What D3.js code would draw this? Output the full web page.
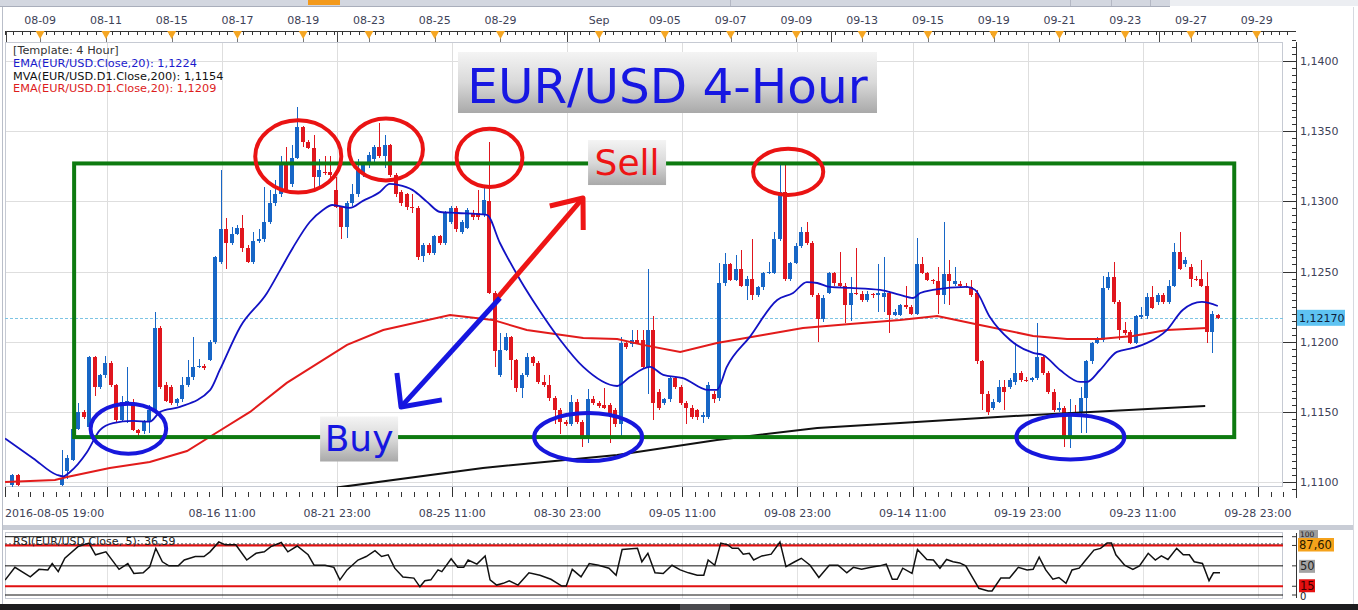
<!DOCTYPE html>
<html><head><meta charset="utf-8">
<script src="https://cdn.jsdelivr.net/npm/d3@7"></script>
<style>body{margin:0;background:#fff;overflow:hidden}svg{display:block}text{font-family:"DejaVu Sans",sans-serif}</style>
</head><body><svg id="c" width="1358" height="610"></svg>
<script>
// ---------------- DATA ----------------
const barIndex = [0, 1, ...d3.range(9, 221)];
const opens = [1.1098,1.1105,
1.1098,1.1108,1.1116,1.1138,1.1150,1.1139,1.1189,1.1168,1.1176,1.1185,1.1169,
1.1144,1.1155,1.1157,1.1137,1.1136,1.1143,1.1151,1.1210,1.1169,1.1168,
1.1156,1.1159,1.1169,1.1175,1.1182,1.1183,1.1187,1.1200,1.1257,1.1280,
1.1270,1.1277,1.1281,1.1267,1.1257,1.1272,1.1273,1.1285,1.1299,1.1305,
1.1326,1.1312,1.1331,1.1353,1.1342,1.1338,1.1317,1.1321,1.1321,1.1308,
1.1296,1.1282,1.1299,1.1305,1.1320,1.1326,1.1330,1.1339,1.1332,1.1340,
1.1319,1.1307,1.1305,1.1296,1.1295,1.1261,1.1269,1.1263,1.1275,1.1270,
1.1285,1.1295,1.1278,1.1281,1.1292,1.1292,1.1290,1.1300,1.1235,1.1176,
1.1194,1.1203,1.1187,1.1167,1.1176,1.1189,1.1185,1.1171,1.1169,1.1160,
1.1151,1.1143,1.1141,1.1157,1.1143,1.1131,1.1159,1.1156,1.1155,1.1155,
1.1151,1.1141,1.1199,1.1198,1.1201,1.1201,1.1182,1.1208,1.1164,1.1156,
1.1159,1.1174,1.1168,1.1156,1.1153,1.1151,1.1146,1.1146,1.1163,1.1160,
1.1242,1.1255,1.1244,1.1252,1.1240,1.1245,1.1233,1.1239,1.1249,1.1249,
1.1273,1.1307,1.1245,1.1256,1.1268,1.1278,1.1270,1.1233,1.1216,1.1235,
1.1249,1.1242,1.1240,1.1226,1.1235,1.1234,1.1230,1.1234,1.1233,1.1232,
1.1235,1.1219,1.1219,1.1226,1.1225,1.1220,1.1255,1.1249,1.1244,1.1243,
1.1233,1.1248,1.1241,1.1241,1.1240,1.1239,1.1235,1.1186,1.1163,1.1153,
1.1157,1.1168,1.1168,1.1171,1.1178,1.1173,1.1173,1.1174,1.1189,1.1178,
1.1164,1.1151,1.1153,1.1131,1.1150,1.1150,1.1160,1.1186,1.1199,1.1201,
1.1238,1.1246,1.1228,1.1208,1.1207,1.1199,1.1218,1.1218,1.1232,1.1228,
1.1233,1.1228,1.1240,1.1264,1.1255,1.1253,1.1245,1.1245,1.1240,1.1207,1.1219];
const highs = [1.1106,1.1106,
1.1123,1.1119,1.1139,1.1156,1.1151,1.1190,1.1190,1.1177,1.1190,1.1186,1.1170,
1.1161,1.1182,1.1159,1.1138,1.1144,1.1155,1.1221,1.1211,1.1171,1.1169,
1.1160,1.1175,1.1187,1.1203,1.1188,1.1184,1.1201,1.1261,1.1322,1.1288,
1.1282,1.1283,1.1290,1.1269,1.1278,1.1280,1.1310,1.1308,1.1315,1.1332,
1.1339,1.1340,1.1367,1.1354,1.1344,1.1347,1.1330,1.1332,1.1332,1.1317,
1.1297,1.1300,1.1312,1.1330,1.1327,1.1335,1.1340,1.1356,1.1347,1.1341,
1.1320,1.1308,1.1306,1.1305,1.1297,1.1270,1.1270,1.1276,1.1276,1.1293,
1.1297,1.1297,1.1287,1.1295,1.1294,1.1308,1.1310,1.1342,1.1236,1.1206,
1.1206,1.1204,1.1188,1.1178,1.1192,1.1190,1.1186,1.1176,1.1176,1.1161,
1.1153,1.1144,1.1162,1.1159,1.1144,1.1166,1.1161,1.1158,1.1167,1.1156,
1.1153,1.1203,1.1200,1.1208,1.1208,1.1208,1.1252,1.1218,1.1166,1.1160,
1.1175,1.1175,1.1169,1.1158,1.1155,1.1152,1.1150,1.1171,1.1165,1.1256,
1.1263,1.1256,1.1262,1.1265,1.1247,1.1273,1.1240,1.1250,1.1257,1.1278,
1.1326,1.1326,1.1257,1.1270,1.1282,1.1285,1.1272,1.1235,1.1233,1.1250,
1.1250,1.1264,1.1242,1.1246,1.1267,1.1236,1.1236,1.1235,1.1255,1.1260,
1.1236,1.1223,1.1227,1.1240,1.1226,1.1274,1.1260,1.1250,1.1245,1.1253,
1.1285,1.1258,1.1253,1.1243,1.1242,1.1244,1.1237,1.1187,1.1165,1.1159,
1.1173,1.1173,1.1174,1.1199,1.1179,1.1175,1.1175,1.1213,1.1190,1.1179,
1.1166,1.1157,1.1154,1.1159,1.1155,1.1168,1.1187,1.1200,1.1203,1.1247,
1.1250,1.1257,1.1230,1.1214,1.1208,1.1219,1.1225,1.1235,1.1240,1.1235,
1.1235,1.1244,1.1270,1.1278,1.1260,1.1255,1.1247,1.1258,1.1250,1.1222,1.1220];
const lows = [1.1096,1.1097,
1.1097,1.1102,1.1115,1.1137,1.1145,1.1138,1.1161,1.1166,1.1174,1.1168,1.1142,
1.1143,1.1142,1.1136,1.1133,1.1134,1.1135,1.1150,1.1166,1.1157,1.1155,
1.1154,1.1157,1.1168,1.1173,1.1181,1.1180,1.1186,1.1198,1.1255,1.1252,
1.1269,1.1276,1.1264,1.1256,1.1255,1.1270,1.1271,1.1284,1.1297,1.1303,
1.1307,1.1310,1.1330,1.1339,1.1337,1.1308,1.1310,1.1319,1.1314,1.1295,
1.1273,1.1274,1.1297,1.1303,1.1317,1.1324,1.1328,1.1331,1.1324,1.1317,
1.1303,1.1297,1.1294,1.1292,1.1258,1.1257,1.1262,1.1262,1.1269,1.1269,
1.1284,1.1278,1.1277,1.1280,1.1287,1.1287,1.1289,1.1234,1.1182,1.1175,
1.1193,1.1173,1.1164,1.1160,1.1175,1.1183,1.1170,1.1168,1.1158,1.1141,
1.1134,1.1140,1.1140,1.1141,1.1125,1.1128,1.1155,1.1153,1.1152,1.1128,
1.1139,1.1132,1.1195,1.1196,1.1198,1.1181,1.1163,1.1144,1.1151,1.1155,
1.1157,1.1166,1.1155,1.1141,1.1145,1.1144,1.1142,1.1145,1.1156,1.1158,
1.1240,1.1243,1.1243,1.1239,1.1230,1.1230,1.1232,1.1237,1.1248,1.1248,
1.1272,1.1243,1.1243,1.1255,1.1267,1.1269,1.1232,1.1200,1.1214,1.1234,
1.1240,1.1239,1.1213,1.1215,1.1233,1.1228,1.1228,1.1231,1.1221,1.1221,
1.1206,1.1218,1.1218,1.1223,1.1219,1.1219,1.1248,1.1243,1.1241,1.1220,
1.1227,1.1226,1.1240,1.1238,1.1238,1.1232,1.1184,1.1151,1.1148,1.1151,
1.1156,1.1151,1.1166,1.1169,1.1171,1.1171,1.1171,1.1173,1.1176,1.1163,
1.1150,1.1150,1.1125,1.1124,1.1148,1.1135,1.1135,1.1184,1.1198,1.1200,
1.1237,1.1227,1.1201,1.1205,1.1198,1.1198,1.1216,1.1216,1.1223,1.1226,
1.1227,1.1227,1.1239,1.1251,1.1253,1.1239,1.1243,1.1239,1.1199,1.1192,1.1216];
const closes = [1.1105,1.1098,
1.1103,1.1117,1.1138,1.1150,1.1146,1.1189,1.1168,1.1176,1.1185,1.1169,1.1144,
1.1157,1.1158,1.1137,1.1135,1.1143,1.1151,1.1210,1.1168,1.1158,1.1156,
1.1159,1.1169,1.1175,1.1182,1.1183,1.1181,1.1200,1.1260,1.1280,1.1270,
1.1277,1.1281,1.1267,1.1257,1.1272,1.1273,1.1285,1.1299,1.1305,1.1326,
1.1308,1.1331,1.1353,1.1342,1.1338,1.1317,1.1322,1.1320,1.1319,1.1296,
1.1282,1.1299,1.1305,1.1322,1.1326,1.1333,1.1339,1.1332,1.1340,1.1319,
1.1305,1.1299,1.1296,1.1295,1.1260,1.1269,1.1263,1.1275,1.1270,1.1292,
1.1295,1.1280,1.1285,1.1294,1.1289,1.1289,1.1301,1.1235,1.1193,1.1194,
1.1203,1.1187,1.1167,1.1176,1.1189,1.1185,1.1171,1.1169,1.1160,1.1151,
1.1143,1.1141,1.1157,1.1143,1.1132,1.1159,1.1156,1.1154,1.1153,1.1148,
1.1141,1.1199,1.1196,1.1201,1.1199,1.1182,1.1208,1.1156,1.1153,1.1159,
1.1174,1.1168,1.1156,1.1153,1.1146,1.1146,1.1148,1.1169,1.1159,1.1242,
1.1255,1.1244,1.1252,1.1240,1.1245,1.1233,1.1239,1.1249,1.1250,1.1273,
1.1307,1.1245,1.1256,1.1268,1.1278,1.1270,1.1233,1.1216,1.1231,1.1249,
1.1242,1.1240,1.1226,1.1235,1.1234,1.1230,1.1234,1.1233,1.1235,1.1235,
1.1219,1.1221,1.1226,1.1225,1.1220,1.1255,1.1249,1.1244,1.1243,1.1233,
1.1248,1.1243,1.1243,1.1240,1.1239,1.1233,1.1186,1.1163,1.1150,1.1157,
1.1168,1.1164,1.1173,1.1178,1.1173,1.1172,1.1174,1.1189,1.1178,1.1164,
1.1151,1.1153,1.1131,1.1150,1.1149,1.1160,1.1186,1.1199,1.1201,1.1238,
1.1246,1.1228,1.1208,1.1206,1.1199,1.1218,1.1219,1.1232,1.1224,1.1233,
1.1228,1.1240,1.1264,1.1252,1.1258,1.1245,1.1244,1.1240,1.1207,1.1220,1.1217];

// EMA(Close,20) on 4H
const emaIdx = [-1.5,3.6,8.0,9.1,10.3,13.4,15.8,18.2,21.8,24.9,26.8,30.4,35.9,37.7,41.4,46.3,48.7,51.0,54.1,56.5,
58.2,61.4,63.8,66.9,68.7,70.2,72.9,75.5,77.9,81.0,86.4,88.8,92.5,95.6,99.8,104.0,110.2,112.5,116.2,118.6,
122.2,126.8,128.4,130.2,134.4,139.4,142.3,144.8,146.7,149.0,152.7,158.2,161.8,164.2,165.5,167.8,174.0,175.5,178.2,181.9,
186.1,187.9,191.0,194.7,195.9,198.3,201.4,204.3,206.9,210.5,213.4,216.9,219.8];
const emaVal = [1.1131,1.1117,1.1105,1.1104,1.1107,1.1121,1.1137,1.1142,1.11435,1.1143,1.1150,1.11535,1.11655,1.1180,1.12105,1.12347,1.1251,1.12668,1.12853,1.12939,
1.12974,1.12953,1.13003,1.13067,1.13124,1.13117,1.1308,1.12996,1.12924,1.12917,1.12903,1.12703,1.1244,1.12247,1.12012,1.1182,1.11684,1.11748,1.1182,1.11763,
1.11741,1.11656,1.11656,1.1182,1.12034,1.12297,1.12347,1.12425,1.12418,1.1239,1.12383,1.12369,1.12333,1.12311,1.12347,1.12369,1.1239,1.12369,1.12176,1.12012,
1.1192,1.11905,1.11798,1.11713,1.11713,1.11798,1.11927,1.11955,1.11991,1.12083,1.12226,1.12283,1.12254];
// EMA(D1.Close,20)
const d1Idx = [-1.5,7.6,9.8,17.6,24.9,31.7,36.4,43.2,49.9,60.9,67.5,79.7,87.5,93.7,104.0,110.2,114.9,121.7,128.4,136.8,144.1,152.7,161.8,168.6,176.4,186.1,192.3,198.3,204.3,210.5,217.8];
const d1Val = [1.1100,1.11015,1.11036,1.1110,1.11143,1.11221,1.11335,1.11499,1.11706,1.11977,1.12083,1.1219,1.12155,1.12083,1.12026,1.12019,1.11977,1.11927,1.11991,1.12048,1.12098,1.12126,1.12155,1.12183,1.12119,1.12041,1.12019,1.12019,1.12041,1.12083,1.12098];
// MVA(D1.Close,200)
const mvaIdx = [59.0,85.7,110.2,128.4,146.7,161.8,186.1,217.5];
const mvaVal = [1.1096,1.1110,1.11193,1.1130,1.11385,1.11421,1.11478,1.11542];
// RSI(Close,5)
const rsiIdx = [-1.5,0.3,3.1,4.7,6.3,7.1,8.2,9.4,11.8,13.8, 15.0,16.9,19.3,20.9,22.0,23.7,24.9,26.0,27.2,28.4,
30.1,31.2,33.2,34.8,35.9,37.5,38.7,40.6,42.6,44.3, 45.8,47.0,48.9,50.1,51.8,53.8,54.9,56.9,58.5,59.6,
60.9,62.9,64.4,66.0,67.2,68.4,69.6,71.1,73.1,74.2, 75.1,76.2,77.5,78.2,79.9,81.1,82.2,83.0,84.6,86.1,
87.0,88.2,89.4,90.5,92.1,94.1,96.1,98.1,100.1,100.9, 102.0,103.6,105.1,106.8,108.7,110.0,111.1,113.9,114.7,115.8,
117.1,118.6,120.2,121.7,123.2,124.8,126.0,126.8,128.0,129.1, 130.4,131.2,132.3,133.2,134.3,135.1,136.6,138.3,139.9,141.0,
142.6,143.8,145.4,147.0,148.9,150.5,152.1,153.3,154.8,156.5, 158.1,159.3,160.4,161.3,162.3,164.0,165.0,166.7,167.9,169.1,
170.3,171.5,172.7,173.8,176.2,177.9,178.6,180.2,181.8,183.4, 185.0,186.1,187.2,188.4,189.7,190.8,192.1,193.2,194.5,195.7,
197.2,198.4,199.6,200.4,201.2,202.8,204.3,205.5,207.1,208.4, 209.5,210.7,212.3,213.5,214.6,215.5,217.0,218.2,219.0,220.2];
const rsiVal = [25.7,47.5,31,44,43,54,40,63,83,89, 69,74,44,54,37,38,48.5,80,57,50,
50,60,66,66,74,91,86,86,60,71.5, 74,83,90,74,84,69,51,51,47.5,26,
43,60,66,76,66,69,46,31,29,14, 24.5,26,43,40,62,47.5,47.5,60,53,67,
26,17,20,24.5,17,38,34,27,15.4,15.4, 44,31,54,51,46,34,78,80,57,71.5,
38,37,51,43,38,34,34,60,51,89, 86,80,80,70,71.5,60,67,70,91,48.5,
57,63,51,30,51,51,38,47.5,44,47.5, 50,53,27,27,46,37,78,61,60,46,
61,57,55,50,11.5,7,7,29,29,47.5, 43,44,65,43,27,30,20,43,46,60,
77,80,89,89,69,51,44,50,71.5,60, 67,61,80,69,69,57,54,24.5,38,38];
const rsiLevels = [100, 85, 50, 15, 0];
const rsiMax = 87.60, rsiLast = "36,59";

// axis ticks / labels
const priceTicks = [1.1100,1.1150,1.1200,1.1250,1.1300,1.1350,1.1400];
const lastPrice = 1.1217;
const topLabels = ["08-09","08-11","08-15","08-17","08-19","08-23","08-25","08-29","Sep","09-05","09-07","09-09","09-13","09-15","09-19","09-21","09-23","09-27","09-29"];
const topLabelIdx = [4.9,16.9,28.9,40.9,52.9,64.9,76.9,88.9,106.9,118.9,130.9,142.9,154.9,166.9,178.9,190.9,202.9,214.9,226.9];
const topMarkIdx = [-1.3,59.1,101.1,149.2,209.1];
const bottomLabels = ["2016-08-05 19:00","08-16 11:00","08-21 23:00","08-25 11:00","08-30 23:00","09-05 11:00","09-08 23:00","09-14 11:00","09-19 23:00","09-23 11:00","09-28 23:00"];
const bottomLabelIdx = [-1.5,38.1,59.1,80.1,101.1,122.1,143.1,164.1,185.1,206.1,227.1];
const bottomMajorIdx = [17.1,38.1,59.1,80.1,101.1,122.1,143.1,164.1,185.1,206.1,227.1];

// annotations (data space)
const rangeBox = [11.1, 222.8, 1.1132, 1.1327];
const sellCircles = [[52.0,1.1332,7.85,0.00257],[68.0,1.1337,6.75,0.00221],[86.9,1.1331,6.0,0.00207],[141.4,1.1321,6.4,0.00164]];
const buyCircles = [[21.0,1.1138,6.9,0.00178],[104.9,1.1132,9.85,0.00171],[192.9,1.1132,9.85,0.0016]];
const sellArrow = [[88.3,1.12311],[103.96,1.13024]];
const sellHead = [[97.9,1.12967],[103.96,1.13024],[104.0,1.12796]];
const buyArrow = [[88.8,1.12311],[70.75,1.11535]];
const buyHead = [[70.0,1.11777],[70.75,1.11535],[78.2,1.11585]];
const sellLabel = [112.0,1.1328], buyLabel = [63.1,1.1131];
const legendLines = [["[Template: 4 Hour]","#333"],["EMA(EUR/USD.Close,20): 1,1224","#1a1acc"],["MVA(EUR/USD.D1.Close,200): 1,1154","#111"],["EMA(EUR/USD.D1.Close,20): 1,1209","#dd1c1c"]];

// ---------------- DRAW ----------------
const BLUE="#1766c6", RED="#e0161e", AX="#3d4257";
const svg = d3.select("#c");
const x = d3.scaleLinear().domain([0,220]).range([13.3,1218.9]);
const y = d3.scaleLinear().domain([1.11,1.14]).range([482,61]);
const yR = d3.scaleLinear().domain([0,100]).range([595,536.7]);
const fmt = v => d3.format(".4f")(v).replace(".",",");
const px = v => Math.round(x(v))+.5;

const defs = svg.append("defs");
const gr = defs.append("linearGradient").attr("id","boxg").attr("x1",0).attr("y1",0).attr("x2",0).attr("y2",1);
gr.append("stop").attr("offset","0%").attr("stop-color","#f4f4f4");
gr.append("stop").attr("offset","50%").attr("stop-color","#d9d9d9");
gr.append("stop").attr("offset","100%").attr("stop-color","#a9a9a9");
defs.append("clipPath").attr("id","cm").append("rect").attr("x",5).attr("y",42).attr("width",1278).attr("height",445);
defs.append("clipPath").attr("id","cr").append("rect").attr("x",5).attr("y",533).attr("width",1278).attr("height",65);

svg.append("rect").attr("width",1358).attr("height",610).attr("fill","#fff");
// toolbar strip
svg.append("rect").attr("x",0).attr("y",0).attr("width",1170).attr("height",6).attr("fill","#d3d7e0");
svg.append("rect").attr("x",1170).attr("y",0).attr("width",188).attr("height",6).attr("fill","#eceef2");
svg.append("line").attr("x1",0).attr("x2",1170).attr("y1",6.5).attr("y2",6.5).attr("stroke","#a9aebb");
svg.append("rect").attr("x",308).attr("y",0).attr("width",32).attr("height",5).attr("fill","#f39a1c");
[730,1070,1111,1150].forEach(v=>svg.append("line").attr("x1",v+.5).attr("x2",v+.5).attr("y1",0).attr("y2",6).attr("stroke","#b4b8c4"));
svg.append("line").attr("x1",2.5).attr("x2",2.5).attr("y1",7).attr("y2",604).attr("stroke","#b9bec9");
svg.append("line").attr("x1",1353.5).attr("x2",1353.5).attr("y1",7).attr("y2",604).attr("stroke","#d6d9e0");

// top ruler
const topAxis = svg.append("g");
topAxis.append("line").attr("x1",5).attr("x2",1296).attr("y1",31.5).attr("y2",31.5).attr("stroke","#333");
topAxis.selectAll("line.m").data(d3.range(-1.5,234,1.5)).join("line").attr("class","m")
  .attr("x1",px).attr("x2",px).attr("y1",31).attr("y2",35).attr("stroke","#333");
topAxis.selectAll("line.mk").data(topMarkIdx).join("line").attr("class","mk")
  .attr("x1",px).attr("x2",px).attr("y1",31).attr("y2",42).attr("stroke","#444");
topAxis.selectAll("line.dl").data(topLabelIdx).join("line").attr("class","dl")
  .attr("x1",px).attr("x2",px).attr("y1",31).attr("y2",42).attr("stroke","#777");
topAxis.selectAll("path.tri").data(topLabelIdx).join("path").attr("class","tri")
  .attr("d",d=>{const c=x(d);return `M${c-4.5},31L${c+4.5},31L${c},39Z`;}).attr("fill","#f5a623");
topAxis.selectAll("text").data(topLabels).join("text").attr("x",(d,k)=>x(topLabelIdx[k])).attr("y",24)
  .attr("text-anchor","middle").attr("font-size",11).attr("fill",AX).text(d=>d);

// main plot frame + grid
const main = svg.append("g");
main.append("rect").attr("x",5.5).attr("y",42.5).attr("width",1277).attr("height",444).attr("fill","#fff").attr("stroke","#c6cad3");
main.selectAll("line.hg").data(priceTicks).join("line").attr("class","hg")
  .attr("x1",6).attr("x2",1282).attr("y1",d=>Math.round(y(d))+.5).attr("y2",d=>Math.round(y(d))+.5).attr("stroke","#dedede");
main.selectAll("line.vg").data(bottomMajorIdx).join("line").attr("class","vg")
  .attr("x1",px).attr("x2",px).attr("y1",43).attr("y2",486).attr("stroke","#dedede");

const pl = main.append("g").attr("clip-path","url(#cm)");
pl.append("line").attr("x1",5).attr("x2",1283).attr("y1",Math.round(y(lastPrice))+.5).attr("y2",Math.round(y(lastPrice))+.5)
  .attr("stroke","#7cc4e4").attr("stroke-dasharray","3,2");

// candles
const candles = barIndex.map((b,k)=>({b,o:opens[k],h:highs[k],l:lows[k],c:closes[k]}));
const cg = pl.append("g").attr("shape-rendering","crispEdges");
cg.selectAll("rect.w").data(candles).join("rect").attr("class","w")
  .attr("x",d=>Math.round(x(d.b))-1).attr("width",1)
  .attr("y",d=>y(d.h)).attr("height",d=>Math.max(1,y(d.l)-y(d.h)))
  .attr("fill",d=>d.c>=d.o?BLUE:RED);
cg.selectAll("rect.b").data(candles).join("rect").attr("class","b")
  .attr("x",d=>Math.round(x(d.b))-3).attr("width",4)
  .attr("y",d=>y(Math.max(d.o,d.c))).attr("height",d=>Math.max(1.5,Math.abs(y(d.o)-y(d.c))))
  .attr("fill",d=>d.c>=d.o?BLUE:RED);

// indicator lines
const zip=(a,b)=>a.map((v,k)=>[v,b[k]]);
const lin = d3.line().x(d=>x(d[0])).y(d=>y(d[1]));
pl.append("path").datum(zip(mvaIdx,mvaVal)).attr("d",lin).attr("fill","none").attr("stroke","#111").attr("stroke-width",2);
pl.append("path").datum(zip(d1Idx,d1Val)).attr("d",lin).attr("fill","none").attr("stroke","#e21b1b").attr("stroke-width",2);
pl.append("path").datum(zip(emaIdx,emaVal)).attr("d",d3.line().x(d=>x(d[0])).y(d=>y(d[1])).curve(d3.curveMonotoneX))
  .attr("fill","none").attr("stroke","#1212c4").attr("stroke-width",1.8);

// annotations
const an = pl.append("g");
an.append("rect").attr("x",x(rangeBox[0])).attr("width",x(rangeBox[1])-x(rangeBox[0]))
  .attr("y",y(rangeBox[3])).attr("height",y(rangeBox[2])-y(rangeBox[3]))
  .attr("fill","none").attr("stroke","#0d7a10").attr("stroke-width",4);
const ell = (arr,col)=>an.selectAll(null).data(arr).join("ellipse")
  .attr("cx",d=>x(d[0])).attr("cy",d=>y(d[1])).attr("rx",d=>x(d[0]+d[2])-x(d[0])).attr("ry",d=>y(d[1]-d[3])-y(d[1]))
  .attr("fill","none").attr("stroke",col).attr("stroke-width",4);
ell(sellCircles,"#ea1313"); ell(buyCircles,"#1717dc");
an.append("path").datum(sellArrow).attr("d",lin).attr("stroke","#ee1515").attr("stroke-width",5).attr("fill","none");
an.append("path").datum(sellHead).attr("d",lin).attr("stroke","#ee1515").attr("stroke-width",5).attr("fill","none").attr("stroke-linejoin","round");
an.append("path").datum(buyArrow).attr("d",lin).attr("stroke","#1616e0").attr("stroke-width",5).attr("fill","none");
an.append("path").datum(buyHead).attr("d",lin).attr("stroke","#1616e0").attr("stroke-width",5).attr("fill","none").attr("stroke-linejoin","round");

function labelBox(pos,txt,col){
  const cx=x(pos[0]), cy=y(pos[1]);
  an.append("rect").attr("x",cx-39).attr("y",cy-22).attr("width",78).attr("height",45).attr("fill","url(#boxg)");
  an.append("text").attr("x",cx).attr("y",cy+13).attr("text-anchor","middle").attr("font-size",36).attr("fill",col).text(txt);
}
labelBox(sellLabel,"Sell","#ee1515");
labelBox(buyLabel,"Buy","#1616e0");

// title
svg.append("rect").attr("x",458).attr("y",52).attr("width",419).attr("height",61).attr("fill","url(#boxg)");
svg.append("text").attr("x",667.5).attr("y",103).attr("text-anchor","middle").attr("font-size",48.5).attr("fill","#1717e2").text("EUR/USD 4-Hour");

// legend
svg.append("g").selectAll("text").data(legendLines).join("text")
  .attr("x",13).attr("y",(d,k)=>54+k*12.8).attr("font-size",11.3).attr("fill",d=>d[1]).text(d=>d[0]);

// right price axis
const ra = svg.append("g");
ra.append("line").attr("x1",1296.5).attr("x2",1296.5).attr("y1",42).attr("y2",498).attr("stroke","#333");
ra.selectAll("line.mi").data(d3.range(1.1095,1.1416,0.0005)).join("line").attr("class","mi")
  .attr("x1",1292).attr("x2",1296).attr("y1",d=>Math.round(y(d))+.5).attr("y2",d=>Math.round(y(d))+.5).attr("stroke","#333");
ra.selectAll("line.ma").data(priceTicks).join("line").attr("class","ma")
  .attr("x1",1283).attr("x2",1296).attr("y1",d=>Math.round(y(d))+.5).attr("y2",d=>Math.round(y(d))+.5).attr("stroke","#333");
ra.selectAll("text").data(priceTicks).join("text").attr("x",1300).attr("y",d=>y(d)+4)
  .attr("font-size",11).attr("fill",AX).text(fmt);
ra.append("rect").attr("x",1297).attr("y",y(lastPrice)-8).attr("width",48).attr("height",16).attr("fill","#5ec3f2");
ra.append("text").attr("x",1299).attr("y",y(lastPrice)+4).attr("font-size",11).attr("fill","#0e1e3a").text(d3.format(".5f")(lastPrice).replace(".",","));

// bottom time axis
const ba = svg.append("g");
ba.selectAll("line.mi").data(d3.range(17.1-21,234,21/9).filter(d=>d>-1.5)).join("line").attr("class","mi")
  .attr("x1",px).attr("x2",px).attr("y1",492).attr("y2",497).attr("stroke","#333");
ba.selectAll("line.ma").data(bottomMajorIdx).join("line").attr("class","ma")
  .attr("x1",px).attr("x2",px).attr("y1",487).attr("y2",497).attr("stroke","#333");
ba.append("line").attr("x1",5.5).attr("x2",5.5).attr("y1",487).attr("y2",497).attr("stroke","#333");
ba.selectAll("text").data(bottomLabels).join("text")
  .attr("x",(d,k)=>k===0?5:x(bottomLabelIdx[k])).attr("y",517)
  .attr("text-anchor",(d,k)=>k===0?"start":"middle").attr("font-size",11).attr("fill",AX).text(d=>d);

// separator
svg.append("rect").attr("x",3).attr("y",525).attr("width",1350).attr("height",5).attr("fill","#c9cdd6");

// RSI panel
const rp = svg.append("g");
rp.append("rect").attr("x",5.5).attr("y",532.5).attr("width",1277).attr("height",66).attr("fill","#fff").attr("stroke","#c6cad3");
rp.selectAll("line.vg").data(bottomMajorIdx).join("line").attr("class","vg")
  .attr("x1",px).attr("x2",px).attr("y1",533).attr("y2",598).attr("stroke","#e2e2e2");
const rc = rp.append("g").attr("clip-path","url(#cr)");
rc.selectAll("line.lv").data(rsiLevels).join("line").attr("class","lv")
  .attr("x1",5).attr("x2",1283).attr("y1",d=>yR(d)).attr("y2",d=>yR(d))
  .attr("stroke",d=>(d===85||d===15)?"#e01010":"#111").attr("stroke-width",d=>(d===85||d===15)?2.2:1);
rc.append("line").attr("x1",5).attr("x2",1283).attr("y1",yR(rsiMax)).attr("y2",yR(rsiMax)).attr("stroke","#444").attr("stroke-dasharray","2,2");
rc.append("path").datum(zip(rsiIdx,rsiVal)).attr("d",d3.line().x(d=>x(d[0])).y(d=>yR(d[1])))
  .attr("fill","none").attr("stroke","#111").attr("stroke-width",1.5);
rp.append("text").attr("x",13).attr("y",545).attr("font-size",11).attr("fill","#222").text("RSI(EUR/USD.Close, 5): "+rsiLast);
rp.append("line").attr("x1",1296.5).attr("x2",1296.5).attr("y1",533).attr("y2",598).attr("stroke","#333");
rp.selectAll("line.t").data(rsiLevels).join("line").attr("class","t")
  .attr("x1",1292).attr("x2",1296).attr("y1",d=>yR(d)).attr("y2",d=>yR(d)).attr("stroke","#333");
// "100" box sits just above the orange max box
rp.append("rect").attr("x",1299).attr("y",530).attr("width",19).attr("height",8).attr("fill","#9c9c9c");
rp.append("text").attr("x",1300).attr("y",537.2).attr("font-size",7.5).attr("fill","#222").text("100");
rp.append("rect").attr("x",1298).attr("y",538).attr("width",36).attr("height",13.5).attr("fill","#f5a21b");
rp.append("text").attr("x",1299).attr("y",548.6).attr("font-size",11.5).attr("fill","#2a1a00").text(d3.format(".2f")(rsiMax).replace(".",","));
rp.append("rect").attr("x",1299).attr("y",yR(50)-6).attr("width",16).attr("height",13).attr("fill","#a3a3a3");
rp.append("text").attr("x",1300).attr("y",yR(50)+4.5).attr("font-size",11.5).attr("fill","#222").text("50");
rp.append("rect").attr("x",1299).attr("y",yR(15)-7).attr("width",16).attr("height",13).attr("fill","#e41010");
rp.append("text").attr("x",1300).attr("y",yR(15)+4).attr("font-size",11.5).attr("fill","#3a0000").text("15");
rp.append("text").attr("x",1300).attr("y",yR(0)+5).attr("font-size",10).attr("fill","#222").text("0");

// bottom bar
svg.append("rect").attr("x",0).attr("y",604).attr("width",1358).attr("height",6).attr("fill","#1d1d1f");
svg.append("rect").attr("x",680).attr("y",604).attr("width",50).attr("height",6).attr("fill","#4a4a4e");
</script></body></html>
